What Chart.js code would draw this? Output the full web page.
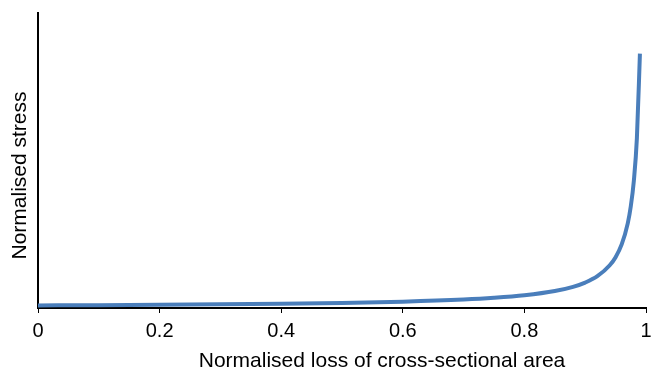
<!DOCTYPE html>
<html>
<head>
<meta charset="utf-8">
<script src="https://cdn.jsdelivr.net/npm/chart.js@4/dist/chart.umd.min.js"></script>
<style>
  html, body { margin: 0; padding: 0; background: #fff; }
  #wrap { width: 651px; height: 372px; position: relative; }
</style>
</head>
<body>
<div id="wrap"><canvas id="c" width="651" height="372"></canvas></div>
<script>
// Values
const lossOfArea = [0, 0.1, 0.2, 0.3, 0.4, 0.5, 0.6, 0.7, 0.75, 0.8, 0.85, 0.88, 0.9, 0.92, 0.94, 0.95, 0.96, 0.97, 0.975, 0.98, 0.985, 0.99];
const normalisedStress = [1, 1.11, 1.25, 1.43, 1.67, 2, 2.5, 3.33, 4, 5, 6.67, 8.33, 10, 12.5, 16.7, 20, 25, 33.3, 40, 50, 66.7, 100];
const xTickValues = [0, 0.2, 0.4, 0.6, 0.8, 1];
const xTitle = 'Normalised loss of cross-sectional area';
const yTitle = 'Normalised stress';

const FONT = '"Liberation Sans", Arial, sans-serif';

const points = lossOfArea.map((x, i) => ({ x: x, y: normalisedStress[i] }));

const titlePlugin = {
  id: 'axisTitles',
  afterDraw(chart) {
    const { ctx, chartArea } = chart;
    ctx.save();
    ctx.fillStyle = '#000';
    ctx.font = '21px ' + FONT;
    ctx.textAlign = 'center';
    ctx.textBaseline = 'alphabetic';
    ctx.fillText(xTitle, (chartArea.left + chartArea.right) / 2 + 40, chartArea.bottom + 59);
    ctx.translate(chartArea.left - 12, (chartArea.top + chartArea.bottom) / 2 + 15);
    ctx.rotate(-Math.PI / 2);
    ctx.fillText(yTitle, 0, 0);
    ctx.restore();
  }
};

new Chart(document.getElementById('c'), {
  type: 'line',
  data: {
    datasets: [{
      data: points,
      borderColor: '#4a7ebb',
      borderWidth: 4,
      pointRadius: 0,
      cubicInterpolationMode: 'monotone',
      fill: false
    }]
  },
  options: {
    responsive: false,
    animation: false,
    layout: { padding: { left: 38, top: 13, right: 0, bottom: 0 } },
    plugins: { legend: { display: false }, tooltip: { enabled: false } },
    scales: {
      x: {
        type: 'linear',
        min: 0,
        max: 1,
        afterBuildTicks(scale) { scale.ticks = xTickValues.map(v => ({ value: v })); },
        afterFit(scale) { scale.height = 64; scale.paddingLeft = 0; scale.paddingRight = 5; },
        ticks: {
          font: { family: FONT, size: 20 },
          color: '#000',
          padding: 6,
          maxRotation: 0,
          autoSkip: false,
          callback: v => String(v)
        },
        grid: { display: true, drawOnChartArea: false, drawTicks: true, tickLength: 5, color: '#000', lineWidth: 1 },
        border: { display: true, color: '#000', width: 2 }
      },
      y: {
        type: 'linear',
        min: 0,
        max: 116,
        afterFit(scale) { scale.width = 0; },
        ticks: { display: false },
        grid: { display: false },
        border: { display: true, color: '#000', width: 2 }
      }
    }
  },
  plugins: [titlePlugin]
});
</script>
</body>
</html>
